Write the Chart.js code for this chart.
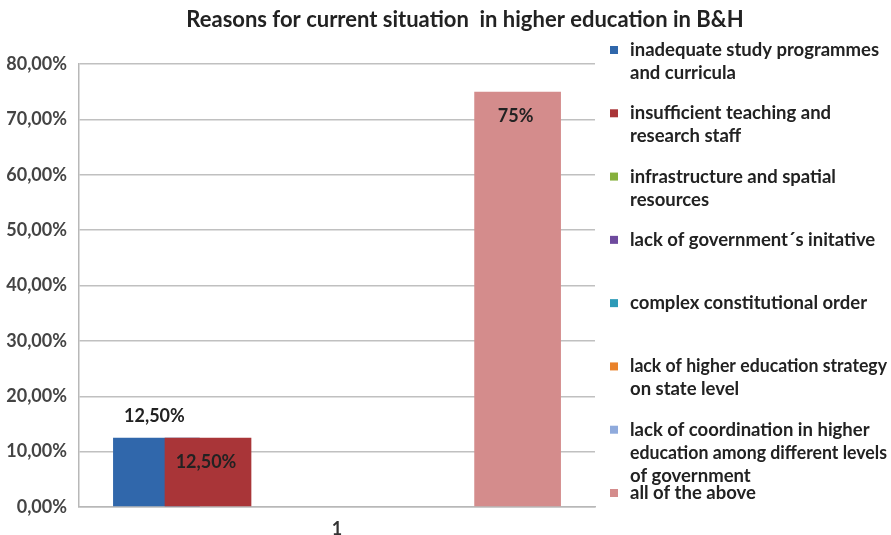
<!DOCTYPE html>
<html>
<head>
<meta charset="utf-8">
<script src="https://cdn.jsdelivr.net/npm/chart.js@4.4.1/dist/chart.umd.min.js"></script>
<style>
  body { margin: 0; background: #fff; }
  #wrap { width: 891px; height: 535px; position: relative; }
</style>
</head>
<body>
<div id="wrap"><canvas id="chart"></canvas></div>
<script>
var chartTitle = 'Reasons for current situation  in higher education in B\u0026H';
var categories = ['1'];
var seriesNames = [
    ['inadequate study programmes', 'and curricula'],
    ['insufficient teaching and', 'research staff'],
    ['infrastructure and spatial', 'resources'],
    ['lack of government\u00b4s initative'],
    ['complex constitutional order'],
    ['lack of higher education strategy', 'on state level'],
    ['lack of coordination in higher', 'education among different levels', 'of government'],
    ['all of the above']
];
var seriesValues = [12.5, 12.5, 0, 0, 0, 0, 0, 75];
var valueLabels = ['12,50%', '12,50%', '', '', '', '', '', '75%'];
var seriesColors = ['#3067ab', '#a93538', '#86b03c', '#6e4a9e', '#2c9ab7', '#e9822a', '#8faadc', '#d48c8c'];
var yTicks = [0, 10, 20, 30, 40, 50, 60, 70, 80];

var FONT = 'Lato, "Liberation Sans", sans-serif';

// labels above the first bar, inside the others (as in the original)
var labelInside = [false, true, true, true, true, true, true, true];

var datasets = seriesValues.map(function (v, i) {
    return {
        label: seriesNames[i].join(' '),
        data: [{ x: i, y: v }],
        backgroundColor: seriesColors[i],
        borderWidth: 0,
        order: seriesValues.length - i
    };
});

var extras = {
    id: 'extras',
    afterDatasetsDraw: function (chart) {
        var ctx = chart.ctx;
        ctx.save();
        ctx.font = 'bold 18px ' + FONT;
        ctx.fillStyle = '#222';
        ctx.textAlign = 'center';
        ctx.textBaseline = 'middle';
        chart.data.datasets.forEach(function (ds, i) {
            var txt = valueLabels[i];
            if (!txt) return;
            var bar = chart.getDatasetMeta(i).data[0];
            var y = labelInside[i] ? bar.y + 24 : bar.y - 22;
            ctx.fillText(txt, bar.x - 2, y);
        });
        ctx.restore();
    },
    afterDraw: function (chart) {
        var ctx = chart.ctx;
        ctx.save();
        // title
        ctx.font = 'bold 22px ' + FONT;
        ctx.fillStyle = '#222';
        ctx.textAlign = 'center';
        ctx.textBaseline = 'middle';
        ctx.fillText(chartTitle, 465, 20);
        // legend
        ctx.font = 'bold 18.5px ' + FONT;
        ctx.textAlign = 'left';
        var area = chart.chartArea;
        var step = (area.bottom - area.top) / 7;
        seriesNames.forEach(function (lines, i) {
            var y0 = area.top - 14 + i * step;
            ctx.fillStyle = seriesColors[i];
            ctx.fillRect(610, y0 - 4, 8, 8);
            ctx.fillStyle = '#222';
            lines.forEach(function (line, k) {
                ctx.fillText(line, 630, y0 + k * 23, 257);
            });
        });
        ctx.restore();
    }
};

new Chart(document.getElementById('chart'), {
    type: 'bar',
    data: { datasets: datasets },
    plugins: [extras],
    options: {
        responsive: true,
        maintainAspectRatio: false,
        animation: false,
        layout: { padding: { top: 64, right: 296, left: 0, bottom: 0 } },
        datasets: {
            bar: { grouped: false, categoryPercentage: 1, barPercentage: 1.68 }
        },
        plugins: {
            legend: { display: false },
            title: { display: false },
            tooltip: { enabled: false }
        },
        scales: {
            x: {
                type: 'linear',
                min: -1.5,
                max: 8.5,
                offset: false,
                grid: { display: false, drawTicks: false },
                border: { display: true, color: '#b8b8b8', width: 1.5 },
                afterBuildTicks: function (axis) {
                    axis.ticks = [{ value: (seriesValues.length - 1) / 2 }];
                },
                afterFit: function (axis) { axis.height = 28; },
                ticks: {
                    padding: 11,
                    color: '#333',
                    font: { family: FONT, size: 18, weight: 'bold' },
                    callback: function () { return categories[0]; }
                }
            },
            y: {
                min: yTicks[0],
                max: yTicks[yTicks.length - 1],
                afterBuildTicks: function (axis) {
                    axis.ticks = yTicks.map(function (v) { return { value: v }; });
                },
                afterFit: function (axis) { axis.width = 79; },
                grid: { color: '#c0c0c0', lineWidth: 1.5, drawTicks: false },
                border: { display: true, color: '#b8b8b8', width: 1.5 },
                ticks: {
                    padding: 12,
                    color: '#444',
                    font: { family: FONT, size: 18, weight: 'bold' },
                    callback: function (v) { return v.toFixed(2).replace('.', ',') + '%'; }
                }
            }
        }
    }
});
</script>
</body>
</html>
